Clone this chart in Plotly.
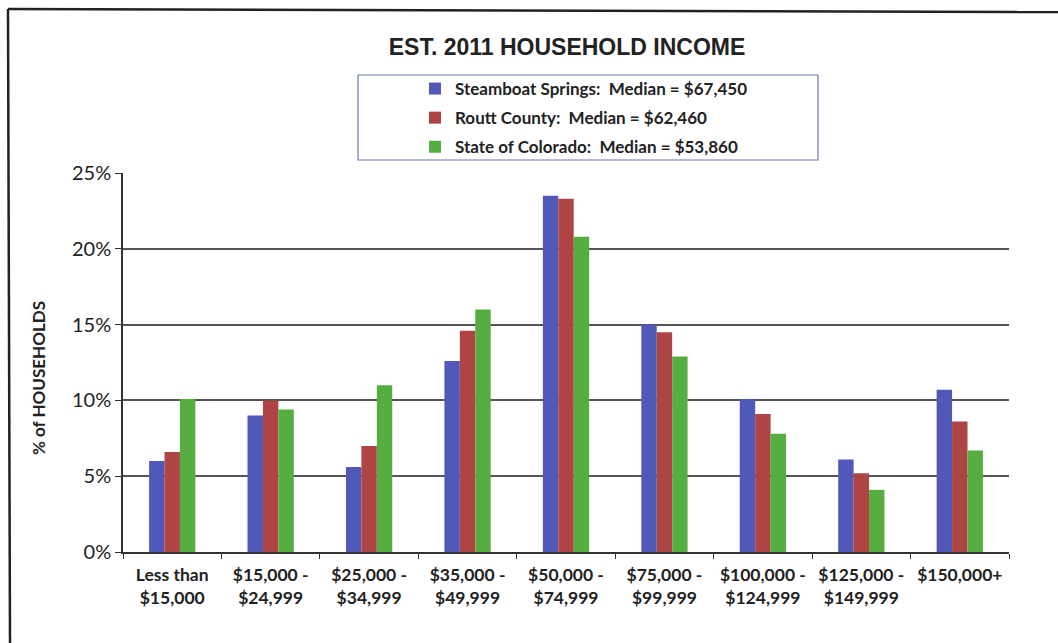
import plotly.graph_objects as go

categories = ["Less than<br>$15,000", "$15,000 -<br>$24,999", "$25,000 -<br>$34,999",
              "$35,000 -<br>$49,999", "$50,000 -<br>$74,999", "$75,000 -<br>$99,999",
              "$100,000 -<br>$124,999", "$125,000 -<br>$149,999", "$150,000+"]

steamboat = [6.0, 9.0, 5.6, 12.6, 23.5, 15.0, 10.1, 6.1, 10.7]
routt = [6.6, 10.0, 7.0, 14.6, 23.3, 14.5, 9.1, 5.2, 8.6]
colorado = [10.1, 9.4, 11.0, 16.0, 20.8, 12.9, 7.8, 4.1, 6.7]

series_names = ["Steamboat Springs:  Median = $67,450",
                "Routt County:  Median = $62,460",
                "State of Colorado:  Median = $53,860"]
series_colors = ["#5159B8", "#AE4444", "#55AE3F"]

y_ticks = [0, 5, 10, 15, 20, 25]
y_tick_labels = ["0%", "5%", "10%", "15%", "20%", "25%"]

W, H = 1058, 643
L, T, PW, PH = 123, 173, 886, 379  # plot area in pixels

fig = go.Figure()
for i, (name, vals, col) in enumerate(zip(series_names, [steamboat, routt, colorado], series_colors)):
    fig.add_trace(go.Bar(x=categories, y=vals, name=name, legendgroup=f"g{i}",
                         marker=dict(color=col, line=dict(width=0))))

label_font = dict(family="Lato, 'Open Sans', sans-serif", color="#222222")


def px_x(x):
    return (x - L) / PW


def px_y(y):
    return (T + PH - y) / PH


fig.update_layout(
    width=W, height=H,
    margin=dict(l=L, r=W - L - PW, t=T, b=H - T - PH),
    paper_bgcolor="white", plot_bgcolor="white",
    barmode="group", bargap=0.53, bargroupgap=0,
    showlegend=True,
    legend=dict(x=px_x(415), y=px_y(71), xanchor="left", yanchor="top",
                bgcolor="rgba(0,0,0,0)", borderwidth=0, traceorder="grouped", tracegroupgap=4,
                font=dict(family="Lato, sans-serif", size=17, color="#222222", weight="bold"),
                itemwidth=30),
    title=dict(text="<b>EST. 2011 HOUSEHOLD INCOME</b>", x=567 / W, xanchor="center",
               y=1 - 47 / H, yanchor="middle",
               font=dict(family="Liberation Sans, Arial, sans-serif", size=23, color="#222222")),
    xaxis=dict(showline=True, linecolor="#333333", linewidth=1.5, ticks="outside",
               tickson="boundaries", ticklen=5, tickcolor="#333333", ticklabelstandoff=6,
               tickfont=dict(size=17.5, weight="bold", **label_font), showgrid=False),
    yaxis=dict(range=[0, 25], tickvals=y_ticks, ticktext=y_tick_labels,
               showline=True, linecolor="#333333", linewidth=1.5, ticks="outside",
               ticklen=6, tickcolor="#333333", showgrid=True, gridcolor="#555555",
               gridwidth=1.5, zeroline=False,
               tickfont=dict(size=20, **label_font)),
)

# y-axis title
fig.add_annotation(text="<b>% of HOUSEHOLDS</b>", xref="paper", yref="paper",
                   x=px_x(38), y=px_y(378), xanchor="center", yanchor="middle",
                   textangle=-90, showarrow=False, font=dict(size=17, **label_font))

# legend frame and outer chart frame
fig.add_shape(type="rect", xref="paper", yref="paper",
              x0=px_x(358), x1=px_x(818), y0=px_y(160), y1=px_y(75),
              line=dict(color="#6c79a8", width=1.2), fillcolor="rgba(0,0,0,0)")
fig.add_shape(type="line", xref="paper", yref="paper",
              x0=px_x(8), x1=px_x(1058), y0=px_y(9), y1=px_y(12),
              line=dict(color="#222222", width=2.5))
fig.add_shape(type="line", xref="paper", yref="paper",
              x0=px_x(8), x1=px_x(10), y0=px_y(9), y1=px_y(643),
              line=dict(color="#222222", width=2.5))

fig.write_html("out.html")
